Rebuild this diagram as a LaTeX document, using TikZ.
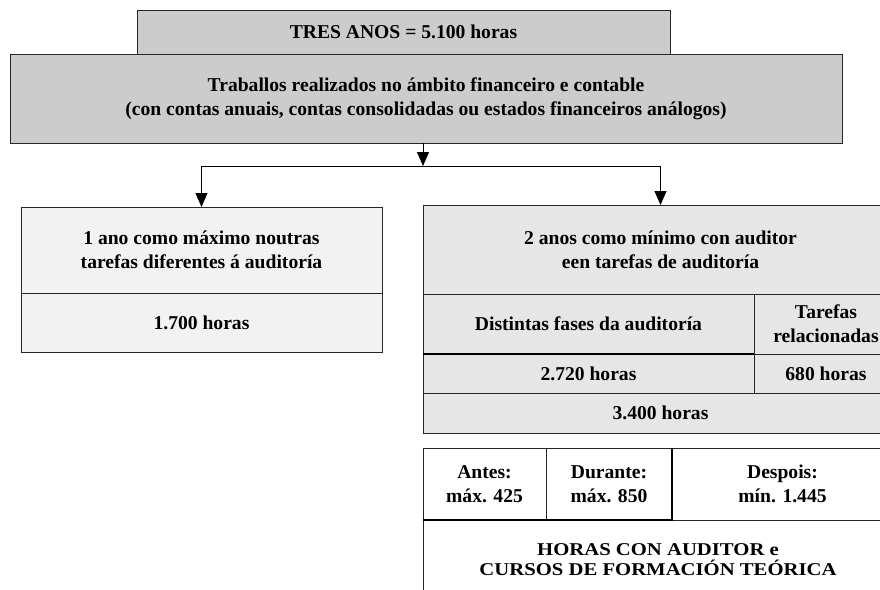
\documentclass[tikz,border=0pt]{standalone}
\usepackage{fontspec}
\setmainfont{Liberation Serif}
\newfontfamily\widefont{Liberation Serif}[FakeStretch=1.15]
\usetikzlibrary{arrows.meta}
\definecolor{gMain}{HTML}{CCCCCC}
\definecolor{gLeft}{HTML}{F2F2F2}
\definecolor{gRight}{HTML}{E6E6E6}
\definecolor{edge}{HTML}{262626}
\begin{document}
\begin{tikzpicture}[x=1pt,y=-1pt,
  cell/.style={draw=edge, line width=1pt, inner sep=0pt, outer sep=0pt, align=center,
    font=\fontsize{19.6}{24}\selectfont\bfseries},
  smallcell/.style={cell, font=\widefont\fontsize{18}{20}\selectfont\bfseries},
  thickrule/.style={draw=black, line width=2.6pt},
  arr/.style={draw=black, line width=1pt, -{Triangle[width=12pt,length=14pt]}}
]
\fill[white] (0,0) rectangle (880,589);
\useasboundingbox (0,0) rectangle (880,589);

% top boxes
\node[cell, fill=gMain, minimum width=533pt, minimum height=44pt] (top) at (403.5,32) {TRES ANOS = 5.100 horas};
\node[cell, fill=gMain, minimum width=832pt, minimum height=89pt] (main) at (426,98.5)
  {Traballos realizados no ámbito financeiro e contable\\(con contas anuais, contas consolidadas ou estados financeiros análogos)};

% left column
\node[cell, fill=gLeft, minimum width=361pt, minimum height=86pt] (L1) at (201.5,250)
  {1 ano como máximo noutras\\tarefas diferentes á auditoría};
\node[cell, fill=gLeft, minimum width=361pt, minimum height=59pt] (L2) at (201.5,322.5) {1.700 horas};

% right column
\node[cell, fill=gRight, minimum width=475pt, minimum height=89pt] (R1) at (660.5,249.5)
  {2 anos como mínimo con auditor\\een tarefas de auditoría};
\node[cell, fill=gRight, minimum width=331pt, minimum height=60pt] (R2a) at (588.5,324) {Distintas fases da auditoría};
\node[cell, fill=gRight, minimum width=144pt, minimum height=60pt] (R2b) at (826,324) {Tarefas\\relacionadas};
\node[cell, fill=gRight, minimum width=331pt, minimum height=39pt] (R3a) at (588.5,373.5) {2.720 horas};
\node[cell, fill=gRight, minimum width=144pt, minimum height=39pt] (R3b) at (826,373.5) {680 horas};
\node[cell, fill=gRight, minimum width=475pt, minimum height=40pt] (R4) at (660.5,413) {3.400 horas};
\draw[thickrule] (R2a.south west) -- (R2a.south east);

% bottom table
\node[cell, fill=white, minimum width=123pt, minimum height=72pt] (B1) at (484.5,484) {Antes:\\máx. 425};
\node[cell, fill=white, minimum width=126pt, minimum height=72pt] (B2) at (609,484) {Durante:\\máx. 850};
\node[cell, fill=white, minimum width=221pt, minimum height=72pt] (B3) at (782.5,484) {Despois:\\mín. 1.445};
\node[smallcell, fill=white, minimum width=470pt, minimum height=80pt] (B4) at (658,560)
  {HORAS CON AUDITOR e\\CURSOS DE FORMACIÓN TEÓRICA};
\draw[thickrule] (B1.south west) -- (B2.south east) -- (B2.north east);

% connectors
\coordinate (split) at (423,166);
\draw[arr] (main.south -| split) -- (split);
\draw[arr] (split) -| (L1.north);
\draw[arr] (split) -| (R1.north);
\end{tikzpicture}
\end{document}
